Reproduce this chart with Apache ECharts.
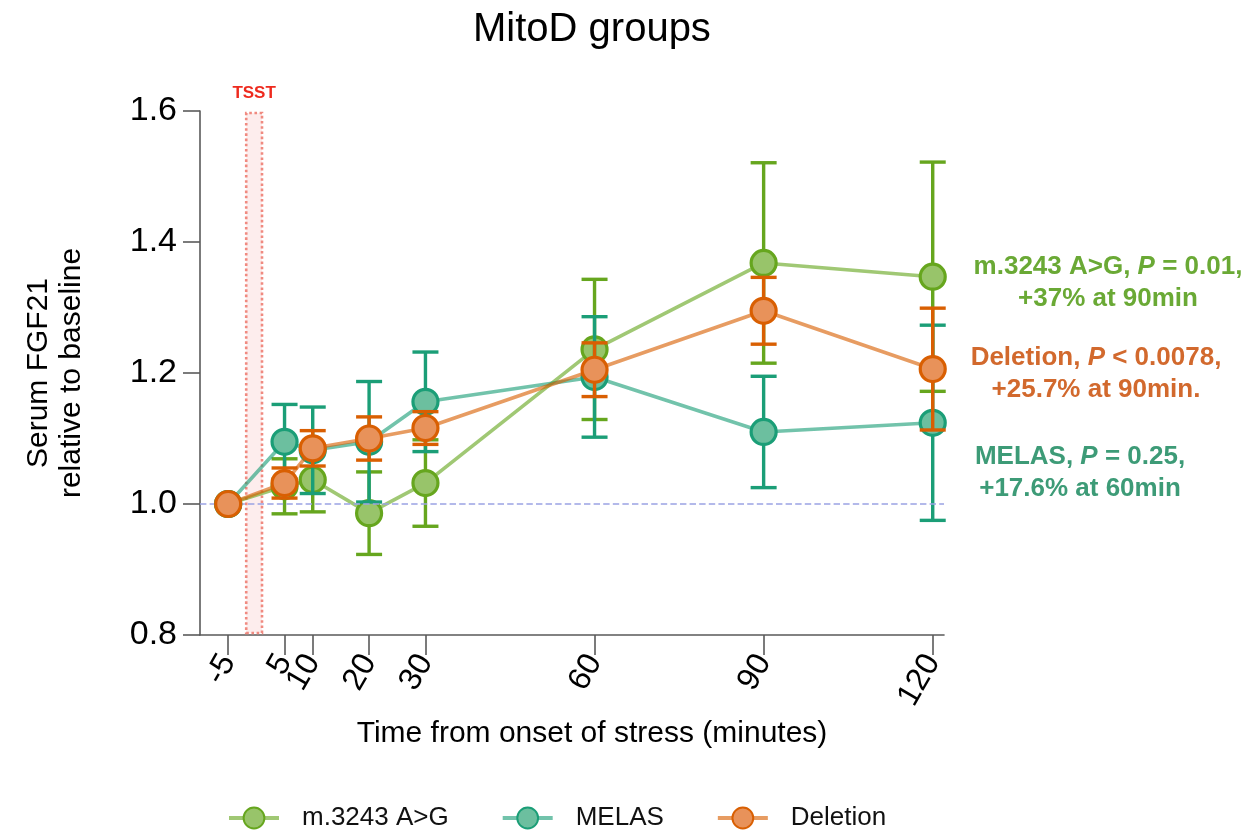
<!DOCTYPE html>
<html>
<head>
<meta charset="utf-8">
<script src="https://cdn.jsdelivr.net/npm/echarts@6/dist/echarts.min.js"></script>
<style>html,body{margin:0;padding:0;background:#fff}#c{width:1250px;height:832px}</style>
</head>
<body>
<div id="c"></div>
<script>
// ---- data ----
const xValues = [-5, 5, 10, 20, 30, 60, 90, 120];
const xTickLabels = ['-5', '5', '10', '20', '30', '60', '90', '120'];
const seriesNames = ['m.3243 A>G', 'MELAS', 'Deletion'];
const m3243Mean = [1.0, 1.027, 1.037, 0.986, 1.032, 1.236, 1.368, 1.347];
const m3243Err  = [0, 0.042, 0.049, 0.063, 0.066, 0.107, 0.153, 0.175];
const melasMean = [1.0, 1.095, 1.082, 1.095, 1.156, 1.194, 1.110, 1.124];
const melasErr  = [0, 0.057, 0.066, 0.092, 0.076, 0.092, 0.085, 0.149];
const deletionMean = [1.0, 1.032, 1.085, 1.100, 1.116, 1.205, 1.295, 1.206];
const deletionErr  = [0, 0.023, 0.027, 0.033, 0.025, 0.041, 0.051, 0.093];
const baselineValue = 1.0;
const tsstStart = -1.8, tsstEnd = 1.0;
const annotations = [
  ['m.3243 A>G, ', 'P', ' = 0.01,', '+37% at 90min'],
  ['Deletion, ', 'P', ' < 0.0078,', '+25.7% at 90min.'],
  ['MELAS, ', 'P', ' = 0.25,', '+17.6% at 60min']
];

// ---- styles ----
const styles = [
  { line: 'rgba(102,166,30,0.62)', fill: '#98c46a', border: '#66a61e', text: '#6aa935' },
  { line: 'rgba(27,158,119,0.62)', fill: '#6cbf9f', border: '#1b9e77', text: '#3d9b77' },
  { line: 'rgba(217,95,2,0.62)', fill: '#e8925a', border: '#d95f02', text: '#d2692d' }
];
const means = [m3243Mean, melasMean, deletionMean];
const errs = [m3243Err, melasErr, deletionErr];
const FONT = 'Liberation Sans, Arial, sans-serif';

function errData(mean, err) {
  const out = [];
  for (let i = 0; i < xValues.length; i++) {
    if (err[i] > 0) out.push([xValues[i], mean[i] - err[i], mean[i] + err[i]]);
  }
  return out;
}

function makeErrRender(color) {
  return function (params, api) {
    const x = api.value(0);
    const pLo = api.coord([x, api.value(1)]);
    const pHi = api.coord([x, api.value(2)]);
    const hw = 13;
    const st = { stroke: color, lineWidth: 3.4 };
    return {
      type: 'group',
      children: [
        { type: 'line', shape: { x1: pLo[0], y1: pLo[1], x2: pHi[0], y2: pHi[1] }, style: st },
        { type: 'line', shape: { x1: pHi[0] - hw, y1: pHi[1], x2: pHi[0] + hw, y2: pHi[1] }, style: st },
        { type: 'line', shape: { x1: pLo[0] - hw, y1: pLo[1], x2: pLo[0] + hw, y2: pLo[1] }, style: st }
      ]
    };
  };
}

const series = [];
series.push({
  type: 'line', name: 'ref', data: [], z: 1, silent: true,
  markLine: {
    symbol: 'none', silent: true, label: { show: false },
    lineStyle: { color: '#9ba2e4', type: 'dashed', width: 1.6 },
    data: [{ yAxis: baselineValue }]
  },
  markArea: {
    silent: true,
    itemStyle: { color: 'rgba(250,215,215,0.45)', borderColor: '#f08a80', borderType: 'dotted', borderWidth: 2.6 },
    label: { show: true, position: 'top', distance: 10, color: '#ee2a1e', fontWeight: 'bold', fontSize: 17, fontFamily: FONT },
    data: [[{ name: 'TSST', xAxis: tsstStart, yAxis: 0.803 }, { xAxis: tsstEnd, yAxis: 1.597 }]]
  }
});
for (let k = 0; k < 3; k++) {
  series.push({
    type: 'custom', name: seriesNames[k] + ' err', z: 2 + k * 2,
    renderItem: makeErrRender(styles[k].border),
    encode: { x: 0, y: [1, 2] },
    data: errData(means[k], errs[k]),
    silent: true
  });
  series.push({
    type: 'line', name: seriesNames[k], z: 3 + k * 2,
    data: xValues.map((x, i) => [x, means[k][i]]),
    symbol: 'circle', symbolSize: 25,
    lineStyle: { color: styles[k].line, width: 3.6 },
    itemStyle: { color: styles[k].fill, borderColor: styles[k].border, borderWidth: 3.2 },
    emphasis: { disabled: true },
    animation: false
  });
}

const annoPos = [[1108, 251], [1096, 342], [1080, 441]];
const annoColor = [styles[0].text, styles[2].text, styles[1].text];
const graphics = annotations.map((a, k) => ({
  type: 'text', x: annoPos[k][0], y: annoPos[k][1],
  style: {
    text: '{n|' + a[0] + '}{i|' + a[1] + '}{n|' + a[2] + '}\n{n|' + a[3] + '}',
    align: 'center',
    rich: {
      n: { fontFamily: FONT, fontSize: 26, fontWeight: 'bold', fill: annoColor[k], lineHeight: 32, align: 'center' },
      i: { fontFamily: FONT, fontSize: 26, fontWeight: 'bold', fontStyle: 'italic', fill: annoColor[k], lineHeight: 32, align: 'center' }
    }
  }
}));

const chart = echarts.init(document.getElementById('c'));
chart.setOption({
  animation: false,
  backgroundColor: '#fff',
  title: {
    text: 'MitoD groups', left: 468, top: 5,
    textStyle: { fontFamily: FONT, fontSize: 40, fontWeight: 'normal', color: '#000' }
  },
  grid: { left: 200, right: 306, top: 111, bottom: 197, containLabel: false },
  xAxis: {
    type: 'value', min: -10, max: 122,
    name: 'Time from onset of stress (minutes)',
    nameLocation: 'middle', nameGap: 66,
    nameTextStyle: { fontFamily: FONT, fontSize: 30, color: '#000', padding: [0, 0, 0, 40] },
    axisLine: { show: true, onZero: false, lineStyle: { color: '#5a5a5a', width: 1.6 } },
    axisTick: { show: true, length: 20, customValues: xValues, lineStyle: { color: '#5a5a5a', width: 1.6 } },
    axisLabel: {
      customValues: xValues, rotate: 60, margin: 22,
      fontFamily: FONT, fontSize: 32, color: '#000',
      formatter: v => xTickLabels[xValues.indexOf(v)]
    },
    splitLine: { show: false }
  },
  yAxis: {
    type: 'value', min: 0.8, max: 1.6, interval: 0.2,
    name: 'Serum FGF21\nrelative to baseline',
    nameLocation: 'middle', nameGap: 112, nameRotate: 90,
    nameTextStyle: { fontFamily: FONT, fontSize: 30, color: '#000', lineHeight: 33 },
    axisLine: { show: true, onZero: false, lineStyle: { color: '#5a5a5a', width: 1.6 } },
    axisTick: { show: true, length: 17, lineStyle: { color: '#5a5a5a', width: 1.6 } },
    axisLabel: { margin: 23, fontFamily: FONT, fontSize: 34, color: '#000', formatter: v => v.toFixed(1) },
    splitLine: { show: false }
  },
  legend: {
    data: seriesNames, left: 222, top: 800, itemWidth: 50, itemHeight: 26, itemGap: 52,
    lineStyle: { width: 4 },
    textStyle: { fontFamily: FONT, fontSize: 26, color: '#111', padding: [0, 0, 0, 18] }
  },
  graphic: graphics,
  series: series
});
</script>
</body>
</html>
